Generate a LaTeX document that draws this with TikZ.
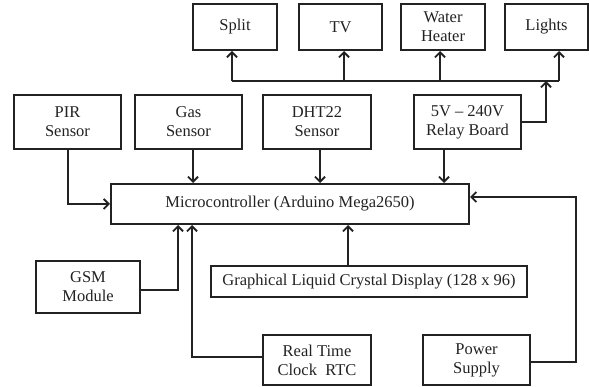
\documentclass[tikz,border=0pt]{standalone}
\usepackage{fontspec}
\setmainfont{Liberation Serif}
\usetikzlibrary{arrows.meta}
\definecolor{ink}{HTML}{222222}
\begin{document}
\begin{tikzpicture}[x=1pt,y=-1pt,
  blk/.style={draw=ink,line width=2pt,align=center,inner sep=0pt,text=ink,
    font=\fontsize{16.5}{19}\selectfont},
  arr/.style={draw=ink,line width=2pt,-{Straight Barb[length=5pt,width=10pt,line width=1.8pt]}},
  ln/.style={draw=ink,line width=2pt}]
\useasboundingbox (0,0) rectangle (589,387);
\node[blk,minimum width=84pt,minimum height=46pt] (split) at (235,27) {Split};
\node[blk,minimum width=83pt,minimum height=46pt] (tv) at (340.5,27) {TV};
\node[blk,minimum width=84pt,minimum height=46pt] (water) at (443,27) {Water\\Heater};
\node[blk,minimum width=83pt,minimum height=46pt] (lights) at (546.5,27) {Lights};
\node[blk,minimum width=107pt,minimum height=54pt] (pir) at (67.5,122) {PIR\\Sensor};
\node[blk,minimum width=107pt,minimum height=54pt] (gas) at (188.5,122) {Gas\\Sensor};
\node[blk,minimum width=108pt,minimum height=54pt] (dht) at (317,122) {DHT22\\Sensor};
\node[blk,minimum width=107pt,minimum height=54pt] (relay) at (467.5,122) {5V -- 240V\\Relay Board};
\node[blk,minimum width=358pt,minimum height=40pt] (micro) at (290,204) {Microcontroller (Arduino Mega2650)};
\node[blk,minimum width=104pt,minimum height=52pt] (gsm) at (88,287) {GSM\\Module};
\node[blk,minimum width=316pt,minimum height=31pt] (lcd) at (369,281.5) {Graphical Liquid Crystal Display (128 x 96)};
\node[blk,minimum width=108pt,minimum height=50pt] (rtc) at (317,360) {Real Time\\Clock\ \ RTC};
\node[blk,minimum width=107pt,minimum height=50pt] (power) at (476.5,360) {Power\\Supply};
% bus
\coordinate (b1) at (232,81);
\coordinate (b2) at (344,81);
\coordinate (b3) at (440,81);
\coordinate (b4) at (559,81);
\coordinate (bj) at (546,81);
\draw[ln] (b1) -- (b4);
\draw[arr] (b1) -- (b1 |- split.south);
\draw[arr] (b2) -- (b2 |- tv.south);
\draw[arr] (b3) -- (b3 |- water.south);
\draw[arr] (b4) -- (b4 |- lights.south);
\draw[arr] (relay.east) -| (bj);
% sensors
\draw[arr] (pir.south) |- (micro.west);
\draw[arr] ([xshift=4.5pt]gas.south) -- ([xshift=4.5pt]gas.south |- micro.north);
\draw[arr] ([xshift=3pt]dht.south) -- ([xshift=3pt]dht.south |- micro.north);
\draw[arr] ([xshift=-23.5pt]relay.south) -- ([xshift=-23.5pt]relay.south |- micro.north);
% bottom
\coordinate (g1) at (178,0);
\coordinate (r1) at (192,0);
\coordinate (p1) at (576,0);
\draw[arr] ([yshift=-3pt]gsm.east) -| (g1 |- micro.south);
\draw[arr] ([yshift=3pt]rtc.west) -| (r1 |- micro.south);
\draw[arr] ([xshift=-21pt]lcd.north) -- ([xshift=-21pt]lcd.north |- micro.south);
\draw[arr] ([yshift=-2pt]power.east) -| ([yshift=7pt]p1 |- micro.east) -- ([yshift=7pt]micro.east);
\end{tikzpicture}
\end{document}
